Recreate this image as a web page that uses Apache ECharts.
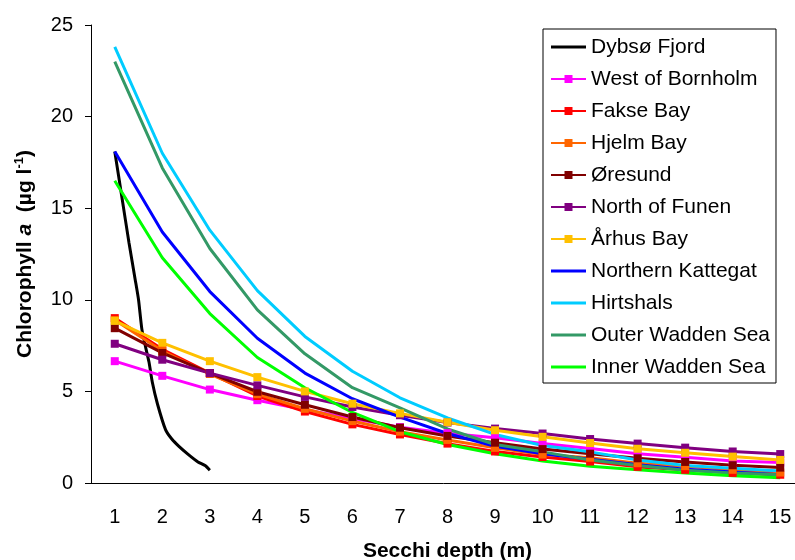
<!DOCTYPE html>
<html>
<head>
<meta charset="utf-8">
<script src="https://cdn.jsdelivr.net/npm/echarts@6/dist/echarts.min.js"></script>
<style>
  html, body { margin: 0; padding: 0; background: #fff; }
  #chart-container { width: 795px; height: 560px; }
</style>
</head>
<body>
<div id="chart-container"></div>
<script>
var depthLabels = ['1', '2', '3', '4', '5', '6', '7', '8', '9', '10', '11', '12', '13', '14', '15'];
var depths = [1, 2, 3, 4, 5, 6, 7, 8, 9, 10, 11, 12, 13, 14, 15];

// Dybsø Fjord is a continuous curve, only between 1 and 3 m
var dybsoX = [1.0, 1.15, 1.3, 1.43, 1.5, 1.57, 1.65, 1.72, 1.79, 1.9, 2.07, 2.2, 2.35, 2.55, 2.75, 2.9, 3.0];
var dybsoY = [18.1, 15.6, 13.1, 11.1, 10.0, 8.4, 7.4, 6.6, 5.5, 4.3, 2.9, 2.4, 2.0, 1.55, 1.15, 0.95, 0.7];

var westBornholm = [6.65, 5.85, 5.1, 4.52, 4.0, 3.52, 3.05, 2.72, 2.47, 2.15, 1.88, 1.6, 1.4, 1.2, 1.12];
var fakseBay = [9.0, 7.3, 6.0, 4.75, 3.9, 3.2, 2.65, 2.15, 1.72, 1.42, 1.17, 0.88, 0.72, 0.55, 0.45];
var hjelmBay = [8.9, 7.2, 5.95, 4.85, 4.05, 3.38, 2.8, 2.35, 1.92, 1.55, 1.38, 1.08, 0.92, 0.72, 0.57];
var oresund = [8.45, 7.1, 6.0, 4.98, 4.27, 3.6, 3.02, 2.57, 2.2, 1.85, 1.6, 1.35, 1.15, 0.97, 0.84];
var northFunen = [7.6, 6.73, 6.0, 5.33, 4.7, 4.15, 3.7, 3.3, 2.97, 2.7, 2.4, 2.15, 1.93, 1.72, 1.58];
var aarhusBay = [8.85, 7.65, 6.65, 5.78, 5.0, 4.33, 3.8, 3.32, 2.88, 2.52, 2.18, 1.87, 1.65, 1.44, 1.26];
var northKattegat = [18.1, 13.7, 10.45, 7.9, 6.0, 4.6, 3.6, 2.7, 2.0, 1.6, 1.3, 1.0, 0.75, 0.6, 0.45];
var hirtshals = [23.8, 18.0, 13.8, 10.5, 8.0, 6.1, 4.65, 3.55, 2.65, 2.05, 1.7, 1.25, 0.95, 0.8, 0.65];
var outerWadden = [23.0, 17.2, 12.8, 9.45, 7.05, 5.2, 4.1, 2.95, 2.1, 1.7, 1.25, 0.95, 0.7, 0.55, 0.45];
var innerWadden = [16.5, 12.3, 9.25, 6.85, 5.2, 3.85, 2.8, 2.1, 1.6, 1.2, 0.92, 0.72, 0.55, 0.4, 0.28];

var yTicks = [0, 5, 10, 15, 20, 25];

var font = "'Liberation Sans', Arial, sans-serif";

// legend icon: a plain line, with tiny corner specks so the bbox keeps full height
var lineIcon = 'path://M0,0h0.01v0.01zM0,3.6H35V6.4H0zM35,10h-0.01v-0.01z';

function pairs(xs, ys) {
  return xs.map(function (x, i) { return [x, ys[i]]; });
}

function station(name, values, color, marker) {
  return {
    name: name,
    type: 'line',
    xAxisIndex: 1,
    data: pairs(depths, values),
    symbol: marker ? 'rect' : 'none',
    symbolSize: 8,
    showSymbol: marker,
    lineStyle: { color: color, width: 3 },
    itemStyle: { color: color },
    emphasis: { disabled: true }
  };
}

var dom = document.getElementById('chart-container');
var myChart = echarts.init(dom, null, { renderer: 'canvas' });

var option = {
  animation: false,
  textStyle: { fontFamily: font },
  grid: { left: 91, top: 25, bottom: 77, width: 713, containLabel: false, outerBoundsMode: 'none' },
  legend: {
    orient: 'vertical',
    left: 543,
    top: 29,
    padding: [7, 6, 5, 7],
    itemGap: 10,
    itemWidth: 35,
    itemHeight: 10,
    borderColor: '#000',
    borderWidth: 1,
    backgroundColor: '#fff',
    textStyle: { fontFamily: font, fontSize: 21, color: '#000', lineHeight: 22 },
    data: [
      { name: 'Dybsø Fjord', icon: lineIcon },
      'West of Bornholm', 'Fakse Bay', 'Hjelm Bay', 'Øresund', 'North of Funen', 'Århus Bay',
      { name: 'Northern Kattegat', icon: lineIcon },
      { name: 'Hirtshals', icon: lineIcon },
      { name: 'Outer Wadden Sea', icon: lineIcon },
      { name: 'Inner Wadden Sea', icon: lineIcon }
    ]
  },
  xAxis: [
    {
      type: 'category',
      position: 'bottom',
      data: depthLabels,
      boundaryGap: true,
      name: 'Secchi depth (m)',
      nameLocation: 'middle',
      nameGap: 58,
      nameTextStyle: { fontFamily: font, fontSize: 21, fontWeight: 'bold', color: '#000' },
      axisLine: { lineStyle: { color: '#000', width: 1 } },
      axisTick: { length: 6, lineStyle: { color: '#000' } },
      axisLabel: { fontFamily: font, fontSize: 20, color: '#000', margin: 24 },
      splitLine: { show: false }
    },
    {
      type: 'value',
      position: 'top',
      min: 0.5,
      max: 15.5,
      show: false,
      splitLine: { show: false }
    }
  ],
  yAxis: {
    type: 'value',
    min: yTicks[0],
    max: yTicks[yTicks.length - 1],
    interval: 5,
    name: '{b|Chlorophyll }{i|a}{b|  (µg l}{s|-1}{b|)}',
    nameLocation: 'middle',
    nameRotate: 90,
    nameGap: 54,
    nameTextStyle: {
      color: '#000',
      rich: {
        b: { fontFamily: font, fontSize: 21, fontWeight: 'bold', color: '#000', lineHeight: 24 },
        i: { fontFamily: font, fontSize: 21, fontWeight: 'bold', fontStyle: 'italic', color: '#000', lineHeight: 24 },
        s: { fontFamily: font, fontSize: 13, fontWeight: 'bold', color: '#000', lineHeight: 13, verticalAlign: 'top' }
      }
    },
    axisLine: { show: true, lineStyle: { color: '#000', width: 1 } },
    axisTick: { show: true, length: 6, lineStyle: { color: '#000' } },
    axisLabel: { fontFamily: font, fontSize: 20, color: '#000', margin: 18 },
    splitLine: { show: false }
  },
  series: [
    {
      name: 'Dybsø Fjord',
      type: 'line',
      xAxisIndex: 1,
      data: pairs(dybsoX, dybsoY),
      symbol: 'none',
      showSymbol: false,
      smooth: 0.2,
      lineStyle: { color: '#000000', width: 3 },
      itemStyle: { color: '#000000' },
      emphasis: { disabled: true }
    },
    station('West of Bornholm', westBornholm, '#ff00ff', true),
    station('Fakse Bay', fakseBay, '#ff0000', true),
    station('Hjelm Bay', hjelmBay, '#ff6600', true),
    station('Øresund', oresund, '#800000', true),
    station('North of Funen', northFunen, '#800080', true),
    station('Århus Bay', aarhusBay, '#ffc000', true),
    station('Northern Kattegat', northKattegat, '#0000ff', false),
    station('Hirtshals', hirtshals, '#00ccff', false),
    station('Outer Wadden Sea', outerWadden, '#339966', false),
    station('Inner Wadden Sea', innerWadden, '#00ff00', false)
  ]
};

if (option && typeof option === 'object') {
  myChart.setOption(option);
}

window.addEventListener('resize', myChart.resize);
</script>
</body>
</html>
